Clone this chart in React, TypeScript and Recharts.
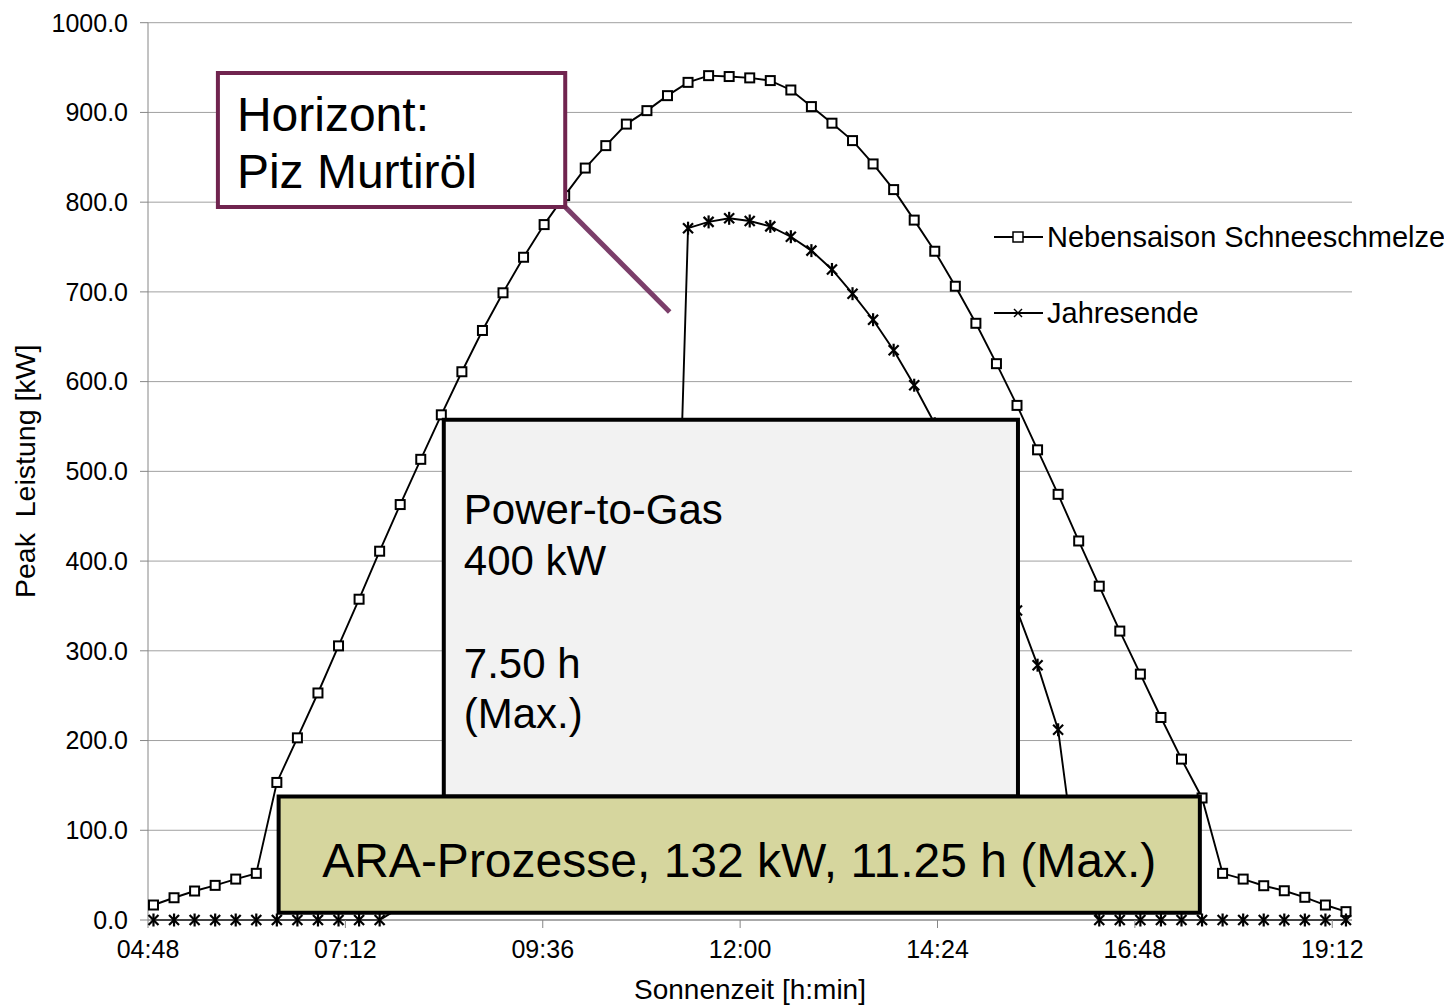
import React from "react"
import { LineChart, Line, XAxis, YAxis, CartesianGrid, Legend, ReferenceArea, ReferenceLine } from "recharts"

const FONT = "'Liberation Sans', Arial, sans-serif"

// solar time of each measurement (15 min steps)
const times = [
  "04:52", "05:07", "05:22", "05:37", "05:52", "06:07", "06:22", "06:37", "06:52", "07:07",
  "07:22", "07:37", "07:52", "08:07", "08:22", "08:37", "08:52", "09:07", "09:22", "09:37",
  "09:52", "10:07", "10:22", "10:37", "10:52", "11:07", "11:22", "11:37", "11:52", "12:07",
  "12:22", "12:37", "12:52", "13:07", "13:22", "13:37", "13:52", "14:07", "14:22", "14:37",
  "14:52", "15:07", "15:22", "15:37", "15:52", "16:07", "16:22", "16:37", "16:52", "17:07",
  "17:22", "17:37", "17:52", "18:07", "18:22", "18:37", "18:52", "19:07", "19:22",
]

const nebensaison = [
  16.7, 24.8, 32.3, 38.6, 45.6, 52, 153.3, 203, 253, 305.5,
  357.5, 411, 463, 513.4, 563, 611, 657, 699, 738.6, 775,
  807.3, 838, 863, 887, 902, 918.7, 933.5, 941, 940, 938.5,
  935.5, 925, 906.5, 888, 868.6, 842.6, 814, 780, 745.3, 706.3,
  665, 620, 573.5, 524, 474.4, 422.4, 372, 322, 274, 225.7,
  179.3, 136, 52, 45.6, 38.2, 32.6, 25.3, 16.7, 9.3,
]

const jahresende = [
  0, 0, 0, 0, 0, 0, 0, 0, 0, 0,
  0, 0, 14, 18, 22, 26, 29, 31, 33, 34,
  34, 33, 31, 28, 22, 14, 771, 778, 782, 779,
  773, 761.5, 746, 725, 698, 669, 635, 596, 553, 503,
  450, 395, 345, 284, 212, 38, 0, 0, 0, 0,
  0, 0, 0, 0, 0, 0, 0, 0, 0,
]

const seriesNames = ["Nebensaison Schneeschmelze", "Jahresende"]
const xTickLabels = ["04:48", "07:12", "09:36", "12:00", "14:24", "16:48", "19:12"]
const yTicks = [0, 100, 200, 300, 400, 500, 600, 700, 800, 900, 1000]

const toMin = (s: string) => {
  const [h, m] = s.split(":").map(Number)
  return h * 60 + m
}
const fmt = (v: number) => {
  const h = Math.floor(v / 60)
  const m = Math.round(v - h * 60)
  return `${String(h).padStart(2, "0")}:${String(m).padStart(2, "0")}`
}

const data = times.map((t, i) => ({ t: toMin(t), neben: nebensaison[i], jahr: jahresende[i] }))
const xTicks = xTickLabels.map(toMin)

// annotation boxes in chart units (minutes, kW)
const horizontBox = { x1: 339, x2: 592.4, y1: 794.6, y2: 944 }
const p2gBox = { x1: 503.8, x2: 922.7, y1: 137.6, y2: 557.5 }
const araBox = { x1: 383.3, x2: 1055.4, y1: 8, y2: 137.6 }
const pointer = [{ x: 592.4, y: 794.6 }, { x: 668.6, y: 677.6 }]

const SquareDot = (p: any) => {
  if (p.cx == null || p.cy == null) return <g key={p.key} />
  return <rect key={p.key} x={p.cx - 4.5} y={p.cy - 4.5} width={9} height={9} fill="#fff" stroke="#000" strokeWidth={2} />
}

const StarDot = (p: any) => {
  if (p.cx == null || p.cy == null) return <g key={p.key} />
  const { cx, cy } = p
  return (
    <g key={p.key} stroke="#000" strokeWidth={2.2}>
      <line x1={cx - 5} y1={cy - 5} x2={cx + 5} y2={cy + 5} />
      <line x1={cx - 5} y1={cy + 5} x2={cx + 5} y2={cy - 5} />
      <line x1={cx} y1={cy - 6.5} x2={cx} y2={cy + 6.5} />
    </g>
  )
}

const renderLegend = (props: any) => {
  const payload = [...(props.payload || [])].sort(
    (a: any, b: any) => seriesNames.indexOf(a.value) - seriesNames.indexOf(b.value)
  )
  return (
    <div style={{ fontFamily: FONT, fontSize: 29, color: "#000" }}>
      {payload.map((entry: any, i: number) => (
        <div key={entry.value} style={{ display: "flex", alignItems: "center", height: 38, marginBottom: i === 0 ? 38 : 0 }}>
          <svg width={54} height={20}>
            <line x1={1} y1={10} x2={50} y2={10} stroke="#000" strokeWidth={2} />
            {entry.dataKey === "neben" ? (
              <rect x={20} y={5} width={10} height={10} fill="#fff" stroke="#000" strokeWidth={1.5} />
            ) : (
              <g stroke="#000" strokeWidth={1.5}>
                <line x1={21} y1={6} x2={29} y2={14} />
                <line x1={21} y1={14} x2={29} y2={6} />
              </g>
            )}
          </svg>
          <span style={{ whiteSpace: "nowrap" }}>{entry.value}</span>
        </div>
      ))}
    </div>
  )
}

const YTitle = (props: any) => {
  const vb = props.viewBox
  const cx = vb.x + 17
  const cy = vb.y + vb.height / 2
  return (
    <text x={cx} y={cy} transform={`rotate(-90, ${cx}, ${cy})`} textAnchor="middle" dominantBaseline="central"
      style={{ whiteSpace: "pre" }} fontFamily={FONT} fontSize={28.5} fill="#000">
      {"Peak  Leistung [kW]"}
    </text>
  )
}

const XTitle = (props: any) => {
  const vb = props.viewBox
  return (
    <text x={vb.x + vb.width / 2} y={vb.y + 69} textAnchor="middle" dominantBaseline="central"
      fontFamily={FONT} fontSize={28} fill="#000">
      Sonnenzeit [h:min]
    </text>
  )
}

const HorizontLabel = (props: any) => {
  const vb = props.viewBox
  return (
    <text fontFamily={FONT} fontSize={48} fill="#000">
      <tspan x={vb.x + 19} y={vb.y + 58}>Horizont:</tspan>
      <tspan x={vb.x + 19} y={vb.y + 115}>Piz Murtiröl</tspan>
    </text>
  )
}

const P2GLabel = (props: any) => {
  const vb = props.viewBox
  return (
    <text fontFamily={FONT} fontSize={42} fill="#000">
      <tspan x={vb.x + 20} y={vb.y + 104}>Power-to-Gas</tspan>
      <tspan x={vb.x + 20} y={vb.y + 155}>400 kW</tspan>
      <tspan x={vb.x + 20} y={vb.y + 258}>7.50 h</tspan>
      <tspan x={vb.x + 20} y={vb.y + 308}>(Max.)</tspan>
    </text>
  )
}

const ARALabel = (props: any) => {
  const vb = props.viewBox
  return (
    <text x={vb.x + vb.width / 2} y={vb.y + 80} textAnchor="middle" fontFamily={FONT} fontSize={48} fill="#000">
      ARA-Prozesse, 132 kW, 11.25 h (Max.)
    </text>
  )
}

export default function App() {
  const tickStyle = { fill: "#000", fontSize: 25, fontFamily: FONT }
  return (
    <div style={{ width: 1436, height: 998 }}>
      <LineChart width={1436} height={998} data={data} margin={{ top: 14.7, right: 92, bottom: 6, left: 0 }}>
        <CartesianGrid vertical={false} stroke="#A0A0A0" />
        <XAxis dataKey="t" type="number" domain={[288, 1166.4]} ticks={xTicks} interval={0} tickFormatter={fmt}
          height={80} tick={tickStyle} tickSize={8} tickMargin={12}
          axisLine={{ stroke: "#868686" }} tickLine={{ stroke: "#868686" }} label={XTitle} />
        <YAxis type="number" domain={[0, 1000]} ticks={yTicks} interval={0} tickFormatter={(v: number) => v.toFixed(1)}
          width={140} tick={tickStyle} tickSize={8} tickMargin={12}
          axisLine={{ stroke: "#868686" }} tickLine={{ stroke: "#868686" }} label={YTitle} />
        <Line type="linear" dataKey="neben" name={seriesNames[0]} stroke="#000" strokeWidth={1.9}
          dot={SquareDot} activeDot={false} isAnimationActive={false} />
        <Line type="linear" dataKey="jahr" name={seriesNames[1]} stroke="#000" strokeWidth={1.9}
          dot={StarDot} activeDot={false} isAnimationActive={false} />
        <ReferenceArea {...p2gBox} fill="#F2F2F2" fillOpacity={1} stroke="#000" strokeWidth={4}
          ifOverflow="visible" label={P2GLabel} zIndex={1500} />
        <ReferenceArea {...araBox} fill="#D6D69E" fillOpacity={1} stroke="#000" strokeWidth={4}
          ifOverflow="visible" label={ARALabel} zIndex={1500} />
        <ReferenceLine segment={pointer} stroke="#7B3E6A" strokeWidth={5} ifOverflow="visible" zIndex={1500} />
        <ReferenceArea {...horizontBox} fill="#fff" fillOpacity={1} stroke="#70244F" strokeWidth={4}
          ifOverflow="visible" label={HorizontLabel} zIndex={1500} />
        <Legend layout="vertical" align="center" verticalAlign="middle" content={renderLegend}
          wrapperStyle={{ position: "absolute", left: 985, top: 210, width: 470, height: "auto" }} />
      </LineChart>
    </div>
  )
}
